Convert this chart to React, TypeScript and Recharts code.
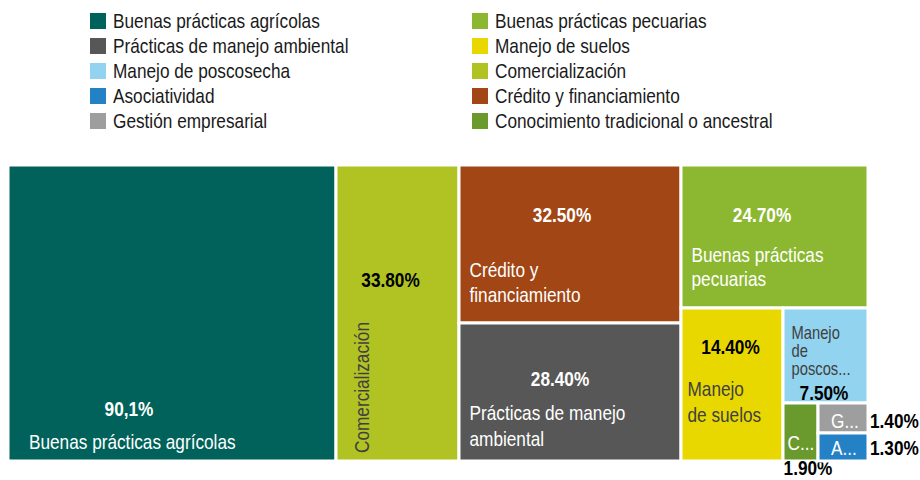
import { Treemap } from 'recharts';

// categories in tile order (left to right, top to bottom)
const categories = [
  'Buenas prácticas agrícolas',
  'Comercialización',
  'Crédito y financiamiento',
  'Prácticas de manejo ambiental',
  'Buenas prácticas pecuarias',
  'Manejo de suelos',
  'Manejo de poscosecha',
  'Conocimiento tradicional o ancestral',
  'Gestión empresarial',
  'Asociatividad',
];
const shares = [90.1, 33.8, 32.5, 28.4, 24.7, 14.4, 7.5, 1.9, 1.4, 1.3];
const shareLabels = ['90,1%', '33.80%', '32.50%', '28.40%', '24.70%', '14.40%', '7.50%', '1.90%', '1.40%', '1.30%'];
const tileLines = [
  ['Buenas prácticas agrícolas'],
  ['Comercialización'],
  ['Crédito y', 'financiamiento'],
  ['Prácticas de manejo', 'ambiental'],
  ['Buenas prácticas', 'pecuarias'],
  ['Manejo', 'de suelos'],
  ['Manejo', 'de', 'poscos...'],
  ['C...'],
  ['G...'],
  ['A...'],
];
// how tiles are nested so the squarify pass gives the same blocks
const groups = [[0], [1], [2, 3], [4, 5, 6, 7, 8, 9]];
const legendLeft = [0, 3, 6, 9, 8];
const legendRight = [4, 5, 1, 2, 7];

const colors = ['#00625A', '#B0C322', '#A14614', '#575757', '#8CB831', '#E8D800', '#92D3EF', '#6A9A2E', '#9E9E9E', '#2481C6'];
const FONT = "'Liberation Sans', Arial, sans-serif";
const NARROW = 0.82; // no Arial Narrow installed, squeeze Liberation Sans instead

const leaf = (i: number) => ({ name: categories[i], value: shares[i], idx: i });
const treeData = groups.map((g) =>
  g.length === 1 ? leaf(g[0]) : { name: g.map((i) => categories[i]).join(' / '), children: g.map(leaf) }
);

type Layout = {
  pcx?: number; // percent label centre, offset from tile centre
  pAfter?: number; // percent label to the right of the tile
  py: number;
  pFill: string;
  nx: number;
  ny: number;
  lh: number;
  nFill: string;
  size: number;
  vertical?: boolean;
};

const layouts: Layout[] = [
  { pcx: -43, py: 250.5, pFill: '#fff', nx: 21, ny: 284, lh: 0, nFill: '#fff', size: 21 },
  { pcx: -7, py: 121.5, pFill: '#000', nx: 32.5, ny: 288, lh: 0, nFill: '#404040', size: 21, vertical: true },
  { pcx: -8, py: 56.5, pFill: '#fff', nx: 10.5, ny: 112, lh: 25, nFill: '#fff', size: 21 },
  { pcx: -10, py: 62.5, pFill: '#fff', nx: 10.5, ny: 97, lh: 26, nFill: '#fff', size: 21 },
  { pcx: -12.5, py: 56.5, pFill: '#fff', nx: 10.5, ny: 97, lh: 24, nFill: '#fff', size: 21 },
  { pcx: -1.5, py: 45.5, pFill: '#000', nx: 6.5, ny: 88, lh: 25.5, nFill: '#404040', size: 21 },
  { pcx: -1.5, py: 92, pFill: '#000', nx: 8.5, ny: 30.5, lh: 18.3, nFill: '#404040', size: 18 },
  { pcx: 7.5, py: 72, pFill: '#000', nx: 4.5, ny: 46.5, lh: 0, nFill: '#fff', size: 21 },
  { pAfter: 2, py: 25, pFill: '#000', nx: 13, ny: 24.5, lh: 0, nFill: '#fff', size: 21 },
  { pAfter: 2, py: 22, pFill: '#000', nx: 13, ny: 22, lh: 0, nFill: '#fff', size: 21 },
];

function NText({ x, y, rotate = 0, anchor = 'start', children, ...rest }: any) {
  return (
    <text
      transform={`translate(${x},${y}) rotate(${rotate}) scale(${NARROW},1)`}
      textAnchor={anchor}
      fontFamily={FONT}
      {...rest}
    >
      {children}
    </text>
  );
}

function Tile(props: any) {
  const { x, y, width, height, idx, children } = props;
  if ((children && children.length) || idx === undefined) return <g />;
  const L = layouts[idx];
  const px = L.pAfter !== undefined ? x + width + L.pAfter : x + width / 2 + (L.pcx || 0);
  const anchor = L.pAfter !== undefined ? 'start' : 'middle';
  const names = tileLines[idx].map((line, k) => (
    <NText
      key={k}
      x={x + L.nx}
      y={y + L.ny + k * L.lh}
      rotate={L.vertical ? -90 : 0}
      fill={L.nFill}
      fontSize={L.size}
    >
      {line}
    </NText>
  ));
  return (
    <g>
      <rect x={x} y={y} width={width} height={height} fill={colors[idx]} stroke="#fff" strokeWidth={3} />
      {names}
      <NText x={px} y={y + L.py} anchor={anchor} fill={L.pFill} fontSize={21} fontWeight="bold">
        {shareLabels[idx]}
      </NText>
    </g>
  );
}

function LegendColumn({ items, left }: { items: number[]; left: number }) {
  return (
    <>
      {items.map((i, k) => (
        <div
          key={i}
          style={{ position: 'absolute', left, top: 13 + k * 25, height: 16, display: 'flex', alignItems: 'center', whiteSpace: 'nowrap' }}
        >
          <div style={{ width: 16, height: 16, background: colors[i] }} />
          <span
            style={{
              marginLeft: 7,
              fontSize: 21,
              lineHeight: '16px',
              color: '#1a1a1a',
              fontFamily: FONT,
              display: 'inline-block',
              transform: `scaleX(${NARROW})`,
              transformOrigin: 'left center',
            }}
          >
            {categories[i]}
          </span>
        </div>
      ))}
    </>
  );
}

export default function App() {
  return (
    <div style={{ position: 'relative', width: 920, height: 480, fontFamily: FONT }}>
      <style>{`body{margin:0}.recharts-surface{overflow:visible}.recharts-wrapper{overflow:visible}`}</style>
      <LegendColumn items={legendLeft} left={90} />
      <LegendColumn items={legendRight} left={472} />
      <div style={{ position: 'absolute', left: 8, top: 165 }}>
        <Treemap
          width={860}
          height={296}
          data={treeData}
          dataKey="value"
          aspectRatio={1}
          isAnimationActive={false}
          content={<Tile />}
        />
      </div>
    </div>
  );
}
